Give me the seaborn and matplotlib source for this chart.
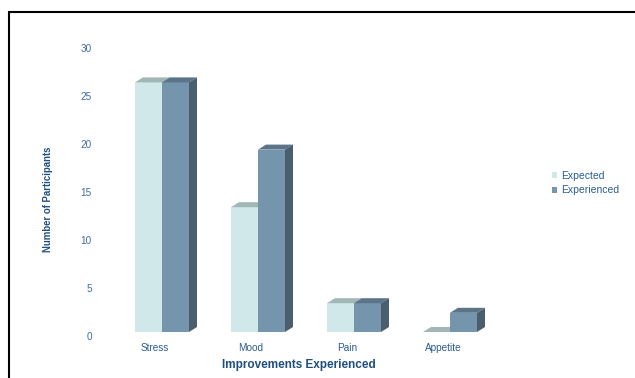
import matplotlib
matplotlib.use("Agg")
import matplotlib.pyplot as plt
import matplotlib.transforms as mtransforms
from matplotlib.patches import Polygon, Patch
from matplotlib.lines import Line2D
import seaborn as sns
import pandas as pd

categories = ["Stress", "Mood", "Pain", "Appetite"]
expected = [26, 13, 3, 0]
experienced = [26, 19, 3, 2]
series_names = ["Expected", "Experienced"]
y_ticks = [0, 5, 10, 15, 20, 25, 30]

df = pd.DataFrame({
    "Category": categories * 2,
    "Value": expected + experienced,
    "Series": [series_names[0]] * 4 + [series_names[1]] * 4,
})

front = {"Expected": "#d0e8ea", "Experienced": "#7595ad"}
top_c = {"Expected": "#a2b6b6", "Experienced": "#5b7489"}
side_c = {"Expected": "#93a7a8", "Experienced": "#4a5e6f"}

sns.set_theme(style="white")
plt.rcParams["font.family"] = ["Liberation Sans", "DejaVu Sans"]

fig = plt.figure(figsize=(6.35, 3.78), dpi=100)
ax = fig.add_axes([114 / 635, 46 / 378, 384 / 635, 288 / 378])

sns.barplot(data=df, x="Category", y="Value", hue="Series", order=categories,
            hue_order=series_names, palette=front, width=0.5625, ax=ax,
            legend=False, saturation=1, linewidth=0)

ax.set_xlim(-0.5, 3.5)
ax.set_ylim(0, 30)
ax.set_yticks(y_ticks)
for s in ax.spines.values():
    s.set_visible(False)
ax.set_xlabel("")
ax.set_ylabel("")
ax.tick_params(axis="both", length=0, labelsize=7.2)
ax.tick_params(axis="y", pad=16, labelcolor="#3f6e9e")
ax.tick_params(axis="x", pad=8, labelcolor="#2b5c90")

# offset tick labels like the original
off_y = mtransforms.ScaledTranslation(0, -0.04, fig.dpi_scale_trans)
for lab in ax.get_yticklabels():
    lab.set_transform(lab.get_transform() + off_y)
off_x = mtransforms.ScaledTranslation(-0.07, 0, fig.dpi_scale_trans)
for lab in ax.get_xticklabels():
    lab.set_transform(lab.get_transform() + off_x)

# 3D depth faces
dx, dy = 8, 5
inv = ax.transData.inverted()
for ci, name in enumerate(series_names):
    cont = ax.containers[ci]
    zf = 2 + ci
    for p in cont.patches:
        p.set_zorder(zf)
        x0, y0 = p.get_x(), p.get_y()
        x1, y1 = x0 + p.get_width(), y0 + p.get_height()
        (X0, Y0), (X1, Y1) = ax.transData.transform([(x0, y0), (x1, y1)])
        top = [(X0, Y1), (X1, Y1), (X1 + dx, Y1 + dy), (X0 + dx, Y1 + dy)]
        side = [(X1, Y0), (X1 + dx, Y0 + dy), (X1 + dx, Y1 + dy), (X1, Y1)]
        ax.add_patch(Polygon(inv.transform(top), closed=True, facecolor=top_c[name],
                             edgecolor="none", zorder=zf + 0.5, clip_on=False))
        ax.add_patch(Polygon(inv.transform(side), closed=True, facecolor=side_c[name],
                             edgecolor="none", zorder=zf + 0.5, clip_on=False))

fig.text(48 / 635, 1 - 199 / 378, "Number of Participants", rotation=90,
         ha="center", va="center", fontsize=6.9, fontweight="bold", color="#1f4f80",
         family=["Liberation Sans Narrow", "Liberation Sans", "DejaVu Sans"])
fig.text(299 / 635, 1 - 365 / 378, "Improvements Experienced", ha="center",
         va="center", fontsize=8.5, fontweight="bold", color="#1f4f80")

handles = [Patch(facecolor=front[n], edgecolor="none", label=n) for n in series_names]
leg = fig.legend(handles=handles, loc="center left",
                 bbox_to_anchor=(547 / 635, 1 - 183 / 378), frameon=False,
                 fontsize=7.5, handlelength=0.5, handleheight=0.5, handletextpad=0.4,
                 labelspacing=0.45, borderpad=0)
for t in leg.get_texts():
    t.set_color("#2b5c90")

# frame lines (left and top)
fig.add_artist(Line2D([8.5 / 635, 8.5 / 635], [0, 1 - 11.5 / 378], color="black", lw=1.5))
fig.add_artist(Line2D([8.5 / 635, 1], [1 - 11.5 / 378, 1 - 11.5 / 378], color="black", lw=1.5))

fig.savefig("out.png", dpi=100)
